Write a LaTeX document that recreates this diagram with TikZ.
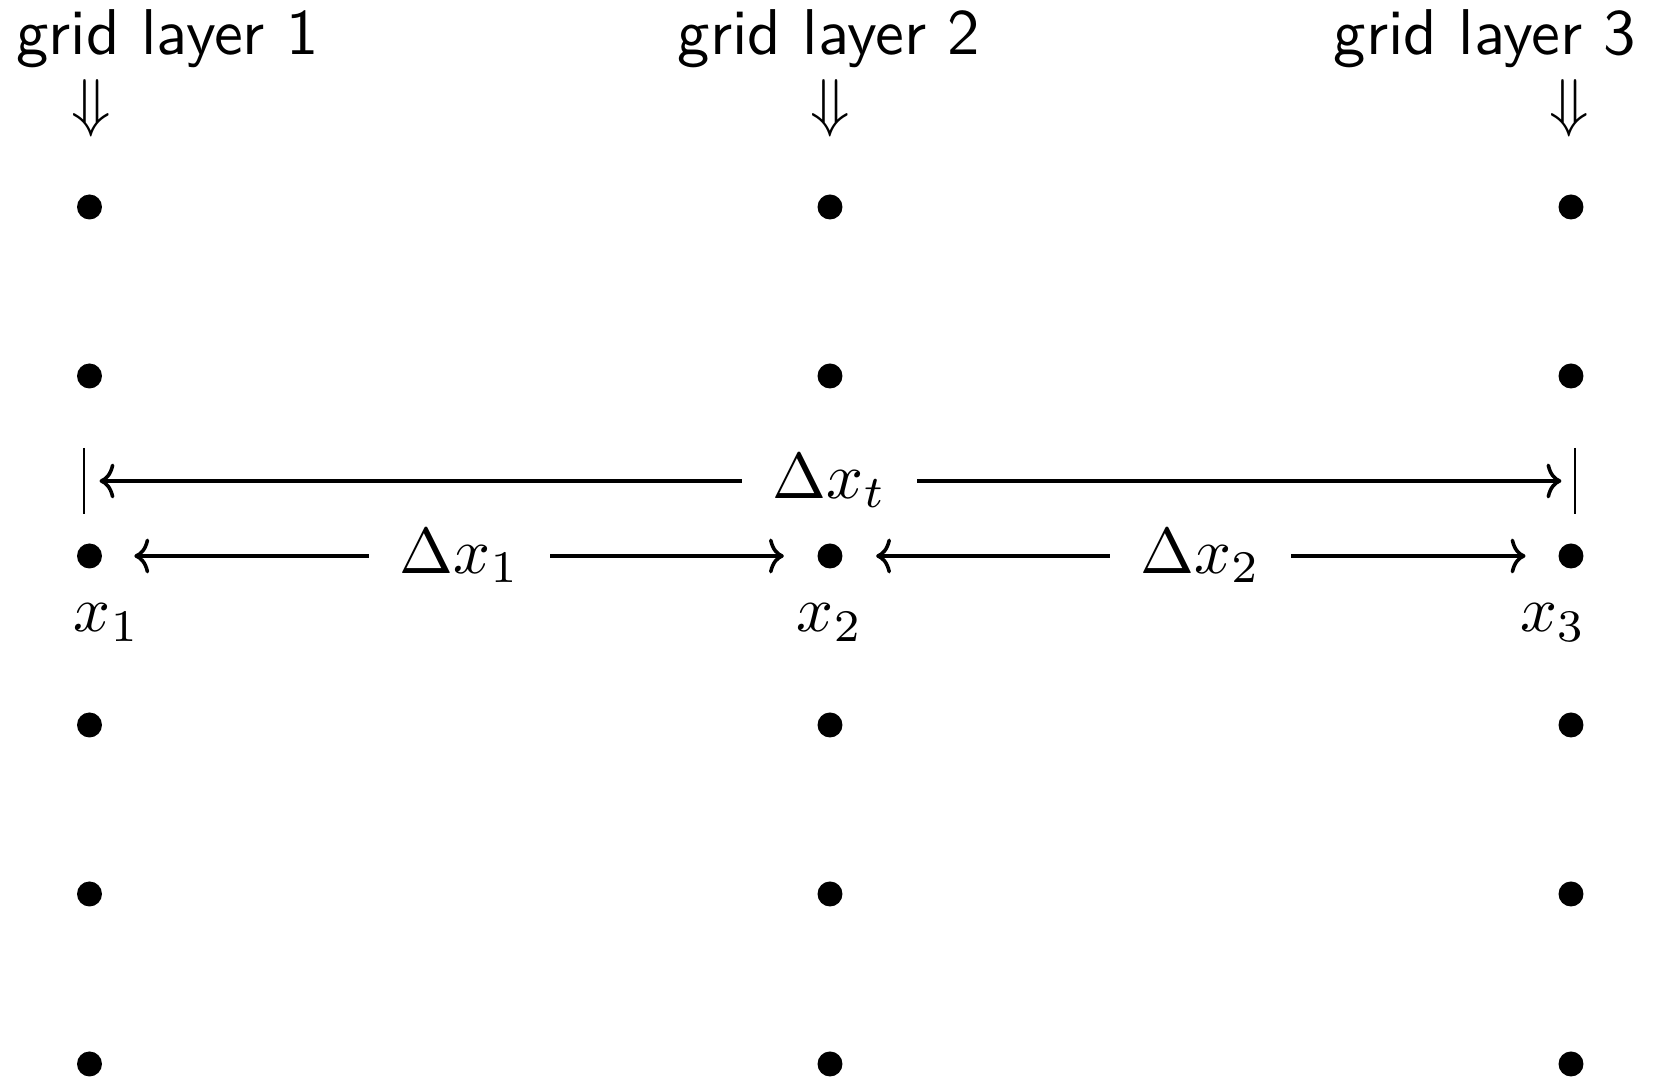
\documentclass[tikz,border=0pt]{standalone}
\usetikzlibrary{arrows.meta}
\begin{document}
\begin{tikzpicture}[x=0.15456pt, y=-0.15456pt,
  dot/.style={circle, fill=black, inner sep=0pt, minimum size=3.86pt},
  lbl/.style={anchor=base, inner sep=0pt, font=\sffamily},
  sym/.style={inner sep=0pt},
  down/.style={inner sep=0pt},
  dim/.style={line width=0.55pt, {To[length=2.3pt,width=5.4pt]}-{To[length=2.3pt,width=5.4pt]}},
  desc/.style={fill=white, inner sep=4.7pt},
  barline/.style={line width=0.45pt}]
\useasboundingbox (0,0) rectangle (1658,1079);
% column labels
\node[lbl] (g1) at (167.5,55) {grid layer 1};
\node[lbl] (g2) at (829,55) {grid layer 2};
\node[lbl] (g3) at (1485,55) {grid layer 3};
\node[down] (a1) at (91,108) {$\Downarrow$};
\node[down] (a2) at (830,108) {$\Downarrow$};
\node[down] (a3) at (1569,108) {$\Downarrow$};
% dots
\foreach \c/\x in {1/89.5, 2/830, 3/1571}{
  \foreach \r/\y in {1/207, 2/376, 3/556, 4/725, 5/894, 6/1064}{
    \node[dot] (d\c\r) at (\x,\y) {};
  }
}
% point labels
\node[sym, anchor=base] (x1) at (107,632) {$x_1$};
\node[sym, anchor=base] (x2) at (830,632) {$x_2$};
\node[sym, anchor=base] (x3) at (1553,632) {$x_3$};
% total width
\coordinate (bL) at (84,481);
\coordinate (bR) at (1575,481);
\draw[barline] (bL) ++(0,-33) -- ++(0,66);
\draw[barline] (bR) ++(0,-33) -- ++(0,66);
\draw[dim, shorten <=2.4pt, shorten >=2.1pt] (bL) -- node[desc] (dt) {$\Delta x_t$} (bR);
% spacings
\draw[dim, shorten <=4.8pt, shorten >=5pt] (d13) -- node[desc] (dx1) {$\Delta x_1$} (d23);
\draw[dim, shorten <=5pt, shorten >=4.9pt] (d23) -- node[desc] (dx2) {$\Delta x_2$} (d33);
\end{tikzpicture}
\end{document}
